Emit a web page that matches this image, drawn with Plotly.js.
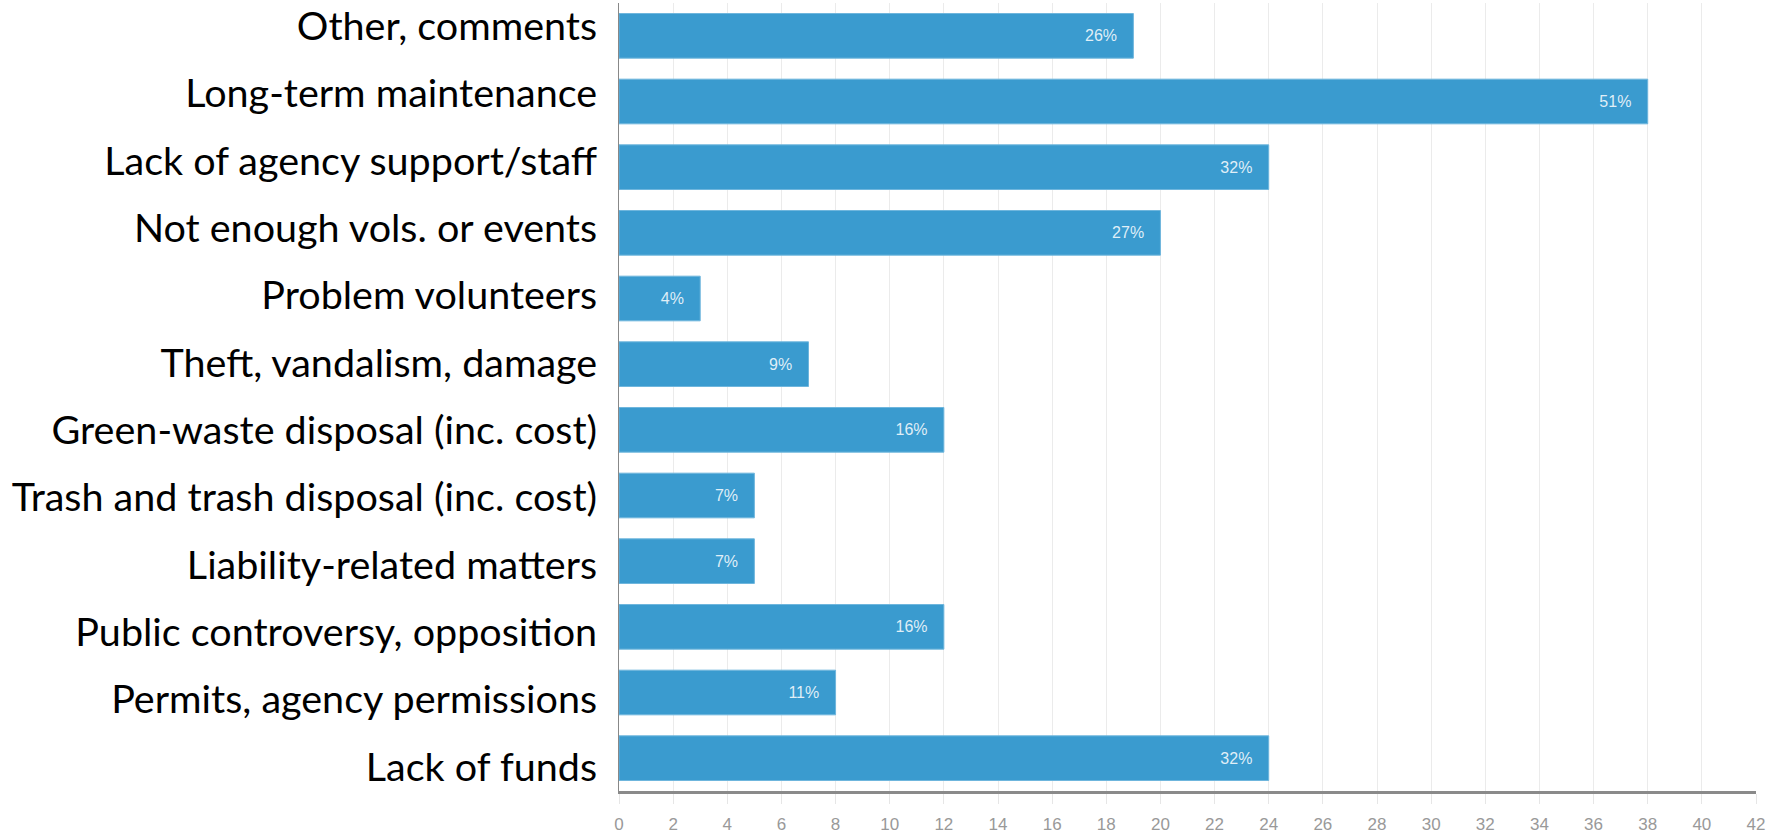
<!DOCTYPE html>
<html>
<head>
<meta charset="utf-8">
<script src="https://cdn.plot.ly/plotly-3.0.1.min.js"></script>
<style>html,body{margin:0;padding:0;background:#fff}#chart{width:1784px;height:836px}</style>
</head>
<body>
<div id="chart"></div>
<script>
const categories = [
  "Other, comments",
  "Long-term maintenance",
  "Lack of agency support/staff",
  "Not enough vols. or events",
  "Problem volunteers",
  "Theft, vandalism, damage",
  "Green-waste disposal (inc. cost)",
  "Trash and trash disposal (inc. cost)",
  "Liability-related matters",
  "Public controversy, opposition",
  "Permits, agency permissions",
  "Lack of funds"
];
const counts = [19, 38, 24, 20, 3, 7, 12, 5, 5, 12, 8, 24];
const percents = ["26%", "51%", "32%", "27%", "4%", "9%", "16%", "7%", "7%", "16%", "11%", "32%"];
const xTicks = [0,2,4,6,8,10,12,14,16,18,20,22,24,26,28,30,32,34,36,38,40,42];

const trace = {
  type: 'bar',
  orientation: 'h',
  y: categories,
  x: counts,
  text: percents.map(p => p + '\u00a0\u00a0\u00a0'),
  textposition: 'inside',
  insidetextanchor: 'end',
  textangle: 0,
  constraintext: 'none',
  textfont: {family: 'Liberation Sans, Arial, sans-serif', size: 16, color: 'rgba(255,255,255,0.85)'},
  marker: {color: '#3a9bcf', line: {color: '#6fb6dd', width: 1}},
  width: 0.68,
  hoverinfo: 'none'
};

// Category labels are spaced slightly wider than the bars in the original,
// so they are drawn on an overlaid label axis.
const n = categories.length;
const labelTrace = {
  type: 'scatter',
  mode: 'none',
  x: [],
  y: [],
  yaxis: 'y2',
  hoverinfo: 'none',
  showlegend: false
};

const layout = {
  width: 1784,
  height: 836,
  margin: {l: 619, r: 28, t: 3, b: 45},
  paper_bgcolor: '#ffffff',
  plot_bgcolor: '#ffffff',
  showlegend: false,
  bargap: 0.32,
  xaxis: {
    range: [0, 42],
    tickvals: xTicks,
    ticktext: xTicks.map(String),
    showgrid: true,
    gridcolor: '#ebebeb',
    gridwidth: 1,
    zeroline: false,
    showline: true,
    linecolor: '#8a8a8a',
    linewidth: 3,
    ticks: 'outside',
    ticklen: 10,
    tickcolor: '#e6e6e6',
    tickwidth: 1,
    ticklabelstandoff: 6,
    tickfont: {family: 'Liberation Sans, Arial, sans-serif', size: 17, color: '#999999'},
    fixedrange: true
  },
  yaxis: {
    categoryorder: 'array',
    categoryarray: categories.slice().reverse(),
    autorange: false,
    range: [-0.5, n - 0.5],
    showgrid: false,
    zeroline: false,
    showline: true,
    linecolor: '#888888',
    linewidth: 1,
    showticklabels: false,
    ticks: '',
    fixedrange: true
  },
  yaxis2: {
    overlaying: 'y',
    side: 'left',
    anchor: 'x',
    autorange: false,
    range: [-0.356, n - 1 + 0.341],
    tickmode: 'array',
    tickvals: categories.map((c, i) => n - 1 - i),
    ticktext: categories,
    showgrid: false,
    zeroline: false,
    showline: false,
    ticks: 'outside',
    ticklen: 13,
    tickcolor: 'rgba(0,0,0,0)',
    tickfont: {family: 'Lato, "Open Sans", sans-serif', size: 39.5, color: '#000000'},
    fixedrange: true
  }
};

Plotly.newPlot('chart', [trace, labelTrace], layout, {displayModeBar: false, staticPlot: true});
</script>
</body>
</html>
